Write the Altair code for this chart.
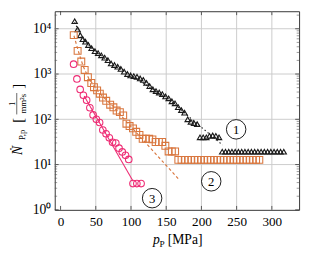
import altair as alt
import pandas as pd

# ---------------- data ----------------
# series 1 (triangles)
p1 = [20, 24.2, 28, 31.6, 35.3, 39.5, 44, 48.8, 53.3, 57.9, 62.6, 67.2, 71.7, 76.5, 81, 85.6,
      90.3, 94.9, 99.4, 104, 108.5, 113, 117.5, 122, 126.5, 131, 135.5, 140, 144.5, 149,
      153.5, 158, 162.5, 167, 171.5, 176, 180.5, 185, 189.5, 194,
      198, 202.5, 207, 211.5, 216, 220.5, 225,
      229.5, 234.1, 238.7, 243.3, 247.9, 252.5, 257.1, 261.7, 266.3, 270.9, 275.5, 280.1,
      284.7, 289.3, 293.9, 298.5, 303.1, 307.7, 312.3, 316.9]
n1 = [14650, 9660, 7180, 5890, 5180, 4375, 3715, 3200, 2900, 2590, 2300, 2020, 1710, 1580, 1450, 1295,
      1130, 1000, 930, 900, 870, 800, 740, 640, 540, 460, 420, 390, 360, 320,
      290, 250, 225, 185, 160, 140, 100, 88, 82, 78,
      40, 40, 40, 43, 44, 43, 40,
      19.2, 19.2, 19.2, 19.2, 19.2, 19.2, 19.2, 19.2, 19.2, 19.2, 19.2, 19.2,
      19.2, 19.2, 19.2, 19.2, 19.2, 19.2, 19.2, 19.2]

# series 2 (squares)
p2 = [18.7, 24.2, 29.4, 34.2, 38.8, 43.6, 47.4, 51.9, 55.7, 60.2, 64.8, 70.4, 75, 79.6, 84.2,
      88.9, 93.5, 98, 102.8, 107.4, 112, 116.6, 121.2, 125.8, 130.4, 135, 139.6, 144.2,
      148.8, 153.4, 158, 162.6,
      167.2, 171.8, 176.4, 181, 185.6, 190.2, 194.8, 199.4, 204, 208.6, 213.2, 217.8, 222.4,
      227, 231.6, 236.2, 240.8, 245.4, 250, 254.6, 259.2, 263.8, 268.4, 273, 277.6, 282.2]
n2 = [7240, 3250, 1885, 1230, 853, 634, 513, 435, 368, 302, 256, 210, 184, 156, 144,
      122, 80, 71, 63, 53, 45, 37, 37, 37, 36, 31.5, 31.5, 31.5,
      26, 19.5, 19.5, 19.5,
      12.7, 12.7, 12.7, 12.7, 12.7, 12.7, 12.7, 12.7, 12.7, 12.7, 12.7, 12.7, 12.7,
      12.7, 12.7, 12.7, 12.7, 12.7, 12.7, 12.7, 12.7, 12.7, 12.7, 12.7, 12.7, 12.7]

# series 3 (circles)
p3 = [18.5, 23.2, 27.8, 32.4, 37, 41.6, 46.2, 50.8, 55.4, 60, 64.6, 69.2, 73.8, 78.4,
      83, 87.6, 92.2, 96.8, 102.8, 108.3, 114.3]
n3 = [1650, 780, 457, 340, 265, 180, 125, 100, 85, 58, 48, 39, 31, 30,
      23, 19, 16, 13, 3.8, 3.8, 3.8]

# fit curves
f1_p = [20, 30, 45, 70, 100, 130, 160, 190, 230]
f1_n = [14000, 6300, 3600, 1800, 950, 470, 230, 90, 27]
f2_p = [19, 25, 32, 40, 55, 75, 94, 167]
f2_n = [7000, 3300, 1500, 800, 380, 190, 87, 4.9]
f3_p = [33.5, 103]
f3_n = [328, 4.3]

# circled labels
lab_p = [249.3, 213.9, 130]
lab_n = [60, 4.27, 1.81]
lab_t = ["1", "2", "3"]

# ticks / grid
x_ticks = [0, 50, 100, 150, 200, 250, 300]
x_grid = [50, 100, 150, 200, 250, 300]
y_major = [1, 10, 100, 1000, 10000]
y_grid = [10, 100, 1000, 10000]
y_minor = [m * 10 ** k for k in range(0, 5) for m in range(2, 10) if m * 10 ** k < 24000]

# ---------------- chart ----------------
W, H = 251, 204
FONT = "Liberation Serif"
xs = alt.Scale(domain=[-8.3, 338.7], nice=False, zero=False)
ys = alt.Scale(type="log", domain=[1, 24380], nice=False)

C1 = "#1a1a1a"
C2 = "#D9773F"
C3 = "#EE2C74"
GRID = "#cccccc"

xaxis = alt.Axis(values=x_ticks, grid=False, ticks=False, domain=False, title=None,
                 labelFont=FONT, labelFontSize=13.5, labelColor="black", labelPadding=5)
yaxis = alt.Axis(values=y_major, grid=False, ticks=False, domain=False, title=None,
                 labelFont=FONT, labelFontSize=14, labelColor="black", labelPadding=4,
                 labelExpr="['10⁰','10¹','10²','10³','10⁴'][round(log(datum.value)/LN10)]")


def X(f):
    return alt.X(f, type="quantitative", scale=xs, axis=xaxis)


def Y(f):
    return alt.Y(f, type="quantitative", scale=ys, axis=yaxis)


vgrid = alt.Chart(pd.DataFrame({"gx": x_grid})).mark_rule(color=GRID, strokeWidth=1).encode(
    x=X("gx"))
hgrid = alt.Chart(pd.DataFrame({"gy": y_grid})).mark_rule(color=GRID, strokeWidth=1).encode(
    y=Y("gy"))

df_xt = pd.DataFrame({"t": x_ticks})
xt_b = alt.Chart(df_xt).mark_rule(color="#333", strokeWidth=0.8).encode(
    x=X("t"), y=alt.value(H), y2=alt.value(H - 4))
xt_t = alt.Chart(df_xt).mark_rule(color="#333", strokeWidth=0.8).encode(
    x=X("t"), y=alt.value(0), y2=alt.value(4))
df_yM = pd.DataFrame({"t": y_major})
yM_l = alt.Chart(df_yM).mark_rule(color="#333", strokeWidth=0.8).encode(
    y=Y("t"), x=alt.value(0), x2=alt.value(4))
yM_r = alt.Chart(df_yM).mark_rule(color="#333", strokeWidth=0.8).encode(
    y=Y("t"), x=alt.value(W - 4), x2=alt.value(W))
df_ym = pd.DataFrame({"t": y_minor})
ym_l = alt.Chart(df_ym).mark_rule(color="#555", strokeWidth=0.6).encode(
    y=Y("t"), x=alt.value(0), x2=alt.value(2.5))
ym_r = alt.Chart(df_ym).mark_rule(color="#555", strokeWidth=0.6).encode(
    y=Y("t"), x=alt.value(W - 2.5), x2=alt.value(W))

fit1 = alt.Chart(pd.DataFrame({"p": f1_p, "n": f1_n})).mark_line(
    color="#222", strokeWidth=1.1, strokeDash=[1.5, 2.5]).encode(x=X("p"), y=Y("n"))
fit2 = alt.Chart(pd.DataFrame({"p": f2_p, "n": f2_n})).mark_line(
    color=C2, strokeWidth=1.2, strokeDash=[3, 2.5]).encode(x=X("p"), y=Y("n"))
fit3 = alt.Chart(pd.DataFrame({"p": f3_p, "n": f3_n})).mark_line(
    color=C3, strokeWidth=1.1).encode(x=X("p"), y=Y("n"))

s1 = alt.Chart(pd.DataFrame({"p": p1, "n": n1})).mark_point(
    shape="triangle-up", filled=False, size=30, color=C1, strokeWidth=1.15, opacity=1).encode(
    x=X("p"), y=Y("n"))
s2 = alt.Chart(pd.DataFrame({"p": p2, "n": n2})).mark_point(
    shape="square", filled=False, size=50, color=C2, strokeWidth=1.1, opacity=1).encode(
    x=X("p"), y=Y("n"))
s3 = alt.Chart(pd.DataFrame({"p": p3, "n": n3})).mark_point(
    shape="circle", filled=False, size=46, color=C3, strokeWidth=1.1, opacity=1).encode(
    x=X("p"), y=Y("n"))

df_lab = pd.DataFrame({"p": lab_p, "n": lab_n, "t": lab_t})
lab_c = alt.Chart(df_lab).mark_point(
    shape="circle", size=400, filled=True, fill="white", stroke="black", strokeWidth=0.9,
    opacity=1).encode(x=X("p"), y=Y("n"))
lab_txt = alt.Chart(df_lab).mark_text(
    font=FONT, fontSize=13, color="black", baseline="middle", align="center", dy=0.5).encode(
    x=X("p"), y=Y("n"), text="t:N")


# axis titles built from text pieces
def txt(s, x, y, size, angle=0, style="normal", align="center", baseline="middle"):
    kw = dict(font=FONT, fontSize=size, color="black", align=align, baseline=baseline,
              fontStyle=style)
    if angle:
        kw["angle"] = angle
    return alt.Chart(pd.DataFrame({"s": [s]})).mark_text(**kw).encode(
        text="s:N", x=alt.value(x), y=alt.value(y))


ytitle = [
    txt("Ṅ", -38, 143, 14, 270, "italic"),
    txt("P,p", -34, 127, 9, 270),
    txt("[", -38, 112, 15, 270),
    txt("1", -44, 95, 9, 270),
    txt("mm²s", -32, 95, 9, 270),
    txt("]", -38, 77, 15, 270),
]
ybar = alt.Chart(pd.DataFrame({"a": [0]})).mark_rule(color="black", strokeWidth=0.6).encode(
    x=alt.value(-39), y=alt.value(84), y2=alt.value(106))

xtitle = [
    txt("p", 101, 239, 14, 0, "italic", "left", "alphabetic"),
    txt("P", 107.5, 242, 9.5, 0, "normal", "left", "alphabetic"),
    txt("[MPa]", 116, 239, 14, 0, "normal", "left", "alphabetic"),
]

chart = alt.layer(
    vgrid, hgrid, xt_b, xt_t, yM_l, yM_r, ym_l, ym_r,
    fit1, fit2, fit3, s1, s2, s3, lab_c, lab_txt, ybar, *ytitle, *xtitle
).properties(
    width=W, height=H,
    autosize=alt.AutoSizeParams(type="none"),
    padding={"left": 48, "top": 0, "right": 4, "bottom": 41},
).configure_view(stroke="#333", strokeWidth=1)

chart.save("out.html", embed_options={"renderer": "svg", "actions": False})
